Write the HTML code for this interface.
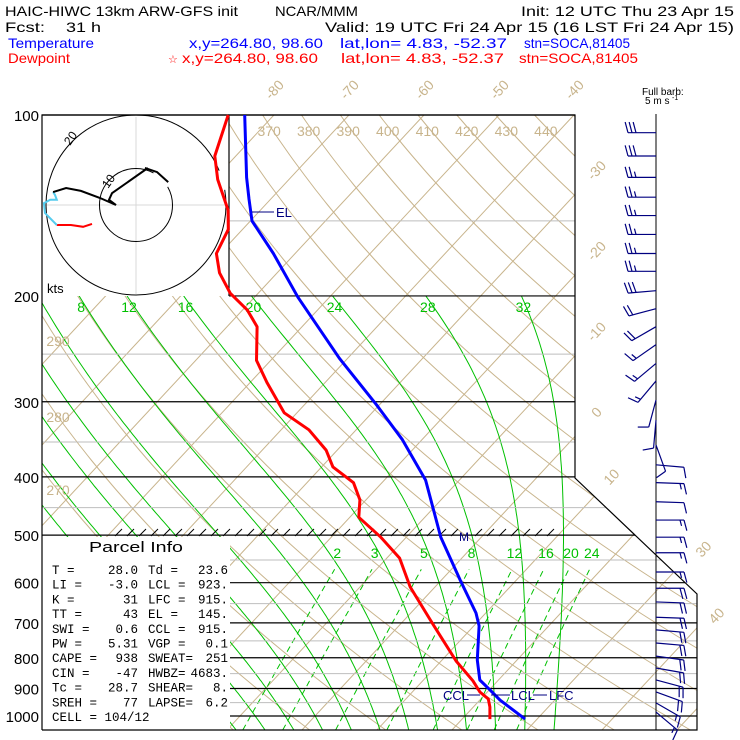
<!DOCTYPE html>
<html><head><meta charset="utf-8"><style>
html,body{margin:0;padding:0;background:#fff;}
svg{display:block;font-family:"Liberation Sans",sans-serif;}
</style></head><body>
<svg id="chart" width="740" height="740" viewBox="0 0 740 740" xmlns="http://www.w3.org/2000/svg">
<defs>
<clipPath id="plotClip"><polygon points="42,115 575,115 575,478 697,594 697,730 42,730"/></clipPath>
</defs>
<g font-size="14" fill="#000">
<text x="5" y="16" textLength="233" lengthAdjust="spacingAndGlyphs">HAIC-HIWC 13km ARW-GFS init</text>
<text x="275" y="16" textLength="83" lengthAdjust="spacingAndGlyphs">NCAR/MMM</text>
<text x="521" y="16" textLength="213" lengthAdjust="spacingAndGlyphs">Init: 12 UTC Thu 23 Apr 15</text>
<text x="5" y="32" textLength="40" lengthAdjust="spacingAndGlyphs">Fcst:</text>
<text x="66" y="32" textLength="35" lengthAdjust="spacingAndGlyphs">31 h</text>
<text x="325" y="32" textLength="409" lengthAdjust="spacingAndGlyphs">Valid: 19 UTC Fri 24 Apr 15 (16 LST Fri 24 Apr 15)</text>
<g fill="#0000ff">
<text x="8" y="48" textLength="86" lengthAdjust="spacingAndGlyphs">Temperature</text>
<text x="189" y="48" textLength="134" lengthAdjust="spacingAndGlyphs">x,y=264.80, 98.60</text>
<text x="340" y="48" textLength="167" lengthAdjust="spacingAndGlyphs">lat,lon=  4.83, -52.37</text>
<text x="524" y="48" textLength="106" lengthAdjust="spacingAndGlyphs">stn=SOCA,81405</text>
</g>
<g fill="#ff0000">
<text x="8" y="63" textLength="62" lengthAdjust="spacingAndGlyphs">Dewpoint</text>
<text x="168" y="63" font-size="11">☆</text>
<text x="182" y="63" textLength="136" lengthAdjust="spacingAndGlyphs">x,y=264.80, 98.60</text>
<text x="341" y="63" textLength="163" lengthAdjust="spacingAndGlyphs">lat,lon=  4.83, -52.37</text>
<text x="519" y="63" textLength="119" lengthAdjust="spacingAndGlyphs">stn=SOCA,81405</text>
</g>
</g>
<g id="bg" clip-path="url(#plotClip)"></g>
<g id="fg"></g>
</svg>
<script>
// ---- data ----
const pressureLevels = [100,150,200,250,300,350,400,450,500,550,600,650,700,750,800,850,900,950,1000];
const pressureLabels = [100,200,300,400,500,600,700,800,900,1000];
const isotherms = [-130,-120,-110,-100,-90,-80,-70,-60,-50,-40,-30,-20,-10,0,10,20,30,40,50];
const topIsoLabels = [-80,-70,-60,-50,-40];
const rightIsoLabels = [-30,-20,-10,0,10];
const lowIsoLabels = [30,40];
const thetas = [250,260,270,280,290,300,310,320,330,340,350,360,370,380,390,400,410,420,430,440,450,460];
const thetaTopLabels = [370,380,390,400,410,420,430,440];
const thetaLeftLabels = [270,280,290];
const moistThetaW = [-20,-16,-12,-8,-4,0,4,8,12,16,20,24,28,32];
const moistLabels = [8,12,16,20,24,28,32];
const mixRatios = [2,3,5,8,12,16,20,24];
const tempP = [100,127,138,150,170,201,254,304,347,405,504,594,674,708,807,871,905,941,1012];
const tempT = [-83.9,-75.9,-72.9,-69.8,-62.9,-54.2,-41.1,-30.3,-22.6,-14.5,-5.4,2.5,8.7,10.7,14.7,17.5,20.1,22.7,28.4];
const dewP = [100,117,128,144,155,170,183,198,211,225,256,279,313,334,361,385,409,437,467,504,546,610,703,810,874,912,937,966,1012];
const dewT = [-86.1,-82.8,-79.5,-74.3,-71.9,-70.5,-67.7,-63.7,-59.4,-56.0,-51.9,-47.7,-41.7,-36.3,-31.5,-28.5,-23.8,-20.8,-18.8,-13.4,-8.3,-3.3,4.3,12.0,16.7,19.0,21.0,22.2,23.7];
const barbP = [107,117,127,137,147,158,170,182,196,210,225,241,259,277,298,322,354,382,409,440,472,504,535,576,613,646,685,719,756,795,832,871,912,951,985];
const barbDir = [270,270,270,270,270,270,270,270,265,255,240,235,230,220,195,185,160,95,92,92,90,90,90,90,90,92,92,95,95,98,100,105,110,120,130];
const barbSpd = [15,15,12.5,12.5,12.5,12.5,12.5,12.5,15,10,10,7.5,7.5,7.5,5,5,5,5,7.5,5,7.5,7.5,7.5,7.5,10,10,10,10,10,10,10,10,10,7.5,7.5];
const hodoRedU = [-11.9,-14.3,-17.6,-21.4];
const hodoRedV = [-5.1,-5.9,-5.4,-5.4];
const hodoCyanU = [-21.4,-24.6,-24.9,-23.2,-21.4,-21.9,-22.4];
const hodoCyanV = [-5.4,-2.2,0.5,1.4,1.4,2.7,3.5];
const hodoBlackU = [-22.4,-18.9,-14.9,-9.7,-5.4,-7.3,-6.5,3.2];
const hodoBlackV = [3.5,4.6,3.8,1.9,0,1.4,3.2,10];
const hodoArcU = [2.4,5.7,8.7];
const hodoArcV = [10.0,8.9,6.2];
const parcelLeftLabels = ["T  =","LI =","K  =","TT =","SWI =","PW =","CAPE =","CIN =","Tc =","SREH ="];
const parcelLeftValues = ["28.0","-3.0","31","43","0.6","5.31","938","-47","28.7","77"];
const parcelRightLabels = ["Td =","LCL =","LFC =","EL  =","CCL =","VGP =","SWEAT=","HWBZ=","SHEAR=","LAPSE="];
const parcelRightValues = ["23.6","923.","915.","145.","915.","0.1","251","4683.","8.","6.2"];

// ---- axes ----
const NS = "http://www.w3.org/2000/svg";
const yP = p => 716 - 261*Math.log(1000/p);
const xT = (T,p) => 315 + 7.5*T + 0.93*261*Math.log(1000/p);
const pY = y => 1000*Math.exp(-(716-y)/261);
const TAN = "#c8b48c", GREEN = "#00c000", GRAY = "#bebebe";
const bg = document.getElementById('bg'), fg = document.getElementById('fg');
function mk(tag, attrs, parent){ const e=document.createElementNS(NS,tag); for(const k in attrs) e.setAttribute(k,attrs[k]); parent.appendChild(e); return e; }
function pathFrom(pts){ return pts.map((q,i)=>(i?'L':'M')+q[0].toFixed(1)+','+q[1].toFixed(1)).join(''); }
function txt(s,x,y,attrs,parent){ const e=mk('text',Object.assign({x:x,y:y},attrs),parent); e.textContent=s; return e; }

isotherms.forEach(T=>{
  const l = mk('line',{x1:xT(T,pY(730)),y1:730,x2:xT(T,pY(115)),y2:115,stroke:TAN,'stroke-width':1},bg);
  
  
});
thetas.forEach(th=>{
  const pts=[]; for(let y=730;y>=115;y-=5){ const p=pY(y); pts.push([xT(th*Math.pow(p/1000,0.2857)-273.15,p),y]); }
  const e = mk('path',{d:pathFrom(pts),fill:'none',stroke:TAN,'stroke-width':1},bg);
  
  
});
function es(Tc){ return 6.112*Math.exp(17.67*Tc/(Tc+243.5)); }
function moistPts(tw){
  const step=(T,p,dp)=>{ const e=es(T-273.15), rs=0.622*e/(p-e); const Lv=2.5e6,Rd=287,cp=1005;
    const g=(Rd*T+Lv*rs)/(cp+Lv*Lv*rs*0.622/(Rd*T*T))/p; return T+g*dp; };
  let Td=tw+273.15, pd=1000; const pts=[];
  while(pd<1055){ Td=step(Td,pd,5); pd+=5; }
  pts.push([xT(Td-273.15,pd),yP(pd)]);
  let Tc=Td, pc=pd;
  while(pc>200){ Tc=step(Tc,pc,-5); pc-=5; pts.push([xT(Tc-273.15,pc),yP(pc)]); }
  return pts;
}
const moistTop = {};
moistThetaW.forEach(tw=>{
  const pts=moistPts(tw); moistTop[tw]=pts[pts.length-1];
  const e=mk('path',{d:pathFrom(pts),fill:'none',stroke:GREEN,'stroke-width':1},bg);
  
  
});
function tdFromW(w,p){ const e=w*p/(622+w); const a=Math.log(e/6.112); return 243.5*a/(17.67-a); }
mixRatios.forEach(w=>{
  const pts=[]; for(let p=1055;p>=570;p-=5) pts.push([xT(tdFromW(w,p),p),yP(p)]);
  const e=mk('path',{d:pathFrom(pts),fill:'none',stroke:GREEN,'stroke-width':1,'stroke-dasharray':'6,4'},bg);
  
  
});

const hb = mk('rect',{x:42,y:115,width:187,height:181,fill:'#fff'},fg);


const pb = mk('rect',{x:42,y:537,width:188,height:193,fill:'#fff'},fg);



function rightX(y){ return y<=478?575:Math.min(697,575+(y-478)*1.052); }
pressureLevels.forEach(p=>{
  const y=yP(p), black = pressureLabels.includes(p);
  let x1=42; if(y<296 && p!==100) x1=229; if(y>540) x1=230;
  const l=mk('line',{x1:x1,y1:y,x2:rightX(y),y2:y,stroke:black?'#000':GRAY,'stroke-width':black?1.2:1},fg);
  
  
});
pressureLabels.forEach(p=>{
  const t=txt(String(p),39,yP(p)+6,{'font-size':15,'text-anchor':'end',fill:'#000'},fg);
  
  
});
const border = mk('polyline',{points:"42,730 42,115 575,115 575,478 697,594 697,730 42,730",fill:'none',stroke:'#000','stroke-width':1.2},fg);


const hbr = mk('line',{x1:229,y1:115,x2:229,y2:296,stroke:'#000','stroke-width':1.2},fg);



topIsoLabels.forEach(T=>{
  const x=xT(T,pY(100))-10, y=93;
  const t=txt(String(T),x,y,{'font-size':14,fill:TAN,'text-anchor':'middle',transform:`rotate(-47 ${x} ${y})`},fg);
  
  
});
rightIsoLabels.forEach(T=>{
  const x=T===10?615:600; const y=716-(x-315-7.5*T)/0.93+6;
  const t=txt(String(T),x,y,{'font-size':14,fill:TAN,'text-anchor':'middle',transform:`rotate(-47 ${x} ${y})`},fg);
  
  
});
lowIsoLabels.forEach(T=>{
  const x=T===30?707:720; const y=716-(x-315-7.5*T)/0.93+16;
  const t=txt(String(T),x,y,{'font-size':14,fill:TAN,'text-anchor':'middle',transform:`rotate(-47 ${x} ${y})`},fg);
  
  
});
thetaTopLabels.forEach(th=>{
  const p=pY(131); const x=xT(th*Math.pow(p/1000,0.2857)-273.15,p)-4;
  const t=txt(String(th),x,136,{'font-size':14,fill:TAN,'text-anchor':'middle'},bg);
  
  
});
thetaLeftLabels.forEach(th=>{
  let best=300,bd=1e9; for(let y=300;y<530;y++){ const p=pY(y); const d=Math.abs(xT(th*Math.pow(p/1000,0.2857)-273.15,p)-58); if(d<bd){bd=d;best=y;} }
  const t=txt(String(th),58,best+5,{'font-size':14,fill:TAN,'text-anchor':'middle'},fg);
  
  
});
moistLabels.forEach(tw=>{
  const q=moistTop[tw];
  const t=txt(String(tw),q[0]+2,312,{'font-size':14,fill:GREEN,'text-anchor':'middle'},fg);
  
  
});
mixRatios.forEach(w=>{
  const t=txt(String(w),xT(tdFromW(w,560),560),558,{'font-size':14,fill:GREEN,'text-anchor':'middle'},fg);
  
  
});

for(let x=115;x<=548;x+=12){
  if(Math.abs(x-462)<6) continue;
  const h=mk('line',{x1:x,y1:536,x2:x+7,y2:529,stroke:'#000','stroke-width':1},fg);
  
  
}
const mM=txt('M',464,541,{'font-size':12,fill:'#000080','text-anchor':'middle'},fg);



const HX=136, HY=205, HS=3.7;
const hodo = mk('g',{},fg);


mk('line',{x1:HX,y1:117,x2:HX,y2:294,stroke:'#d8d8d8','stroke-width':1},hodo);
mk('line',{x1:44,y1:HY,x2:228,y2:HY,stroke:'#d8d8d8','stroke-width':1},hodo);
const oc=mk('circle',{cx:HX,cy:HY,r:90,fill:'none',stroke:'#000','stroke-width':1,'stroke-dasharray':'530,20,200'},hodo);


const ic=mk('circle',{cx:HX,cy:HY,r:36.5,fill:'none',stroke:'#000','stroke-width':1,'stroke-dasharray':'190,20,50'},hodo);


const l20=txt('20',70,146,{'font-size':12,fill:'#000',transform:'rotate(-55 70 146)'},hodo);


const l10=txt('10',108,189,{'font-size':12,fill:'#000',transform:'rotate(-55 108 189)'},hodo);


const kts=txt('kts',47,293,{'font-size':13,fill:'#000'},hodo);


function hodoSeg(U,V,color,name){
  const pts=U.map((u,i)=>[HX+u*HS,HY-V[i]*HS]);
  const e=mk('path',{d:pathFrom(pts),fill:'none',stroke:color,'stroke-width':2},hodo);
  
  
}
hodoSeg(hodoRedU,hodoRedV,'#ff0000','hodograph-low-level');
hodoSeg(hodoCyanU,hodoCyanV,'#55ccee','hodograph-mid-level');
hodoSeg(hodoBlackU,hodoBlackV,'#000','hodograph-upper-level');
hodoSeg(hodoArcU,hodoArcV,'#000','hodograph-top-arc');

function profile(P,T,color,name){
  const pts=P.map((p,i)=>[xT(T[i],p),yP(p)]);
  const e=mk('path',{d:pathFrom(pts),fill:'none',stroke:color,'stroke-width':3,'stroke-linejoin':'round'},fg);
  
  
}
profile(dewP,dewT,'#ff0000','dewpoint-profile');
profile(tempP,tempT,'#0000ff','temperature-profile');

const el=mk('line',{x1:252,y1:212,x2:274,y2:212,stroke:'#000080','stroke-width':1},fg);


const elt=txt('EL',276,217,{'font-size':13,fill:'#000080'},fg);


const cl=txt('CCL',443,700,{'font-size':13,fill:'#000080'},fg);


const ll=txt('LCL',511,700,{'font-size':13,fill:'#000080'},fg);


const lf=txt('LFC',549,700,{'font-size':13,fill:'#000080'},fg);


[[467,480],[491,510],[533,547]].forEach(s=>{
  const m=mk('line',{x1:s[0],y1:695,x2:s[1],y2:695,stroke:'#000080','stroke-width':1},fg);
  
  
});

const MONO = {'font-size':12.5,fill:'#000','font-family':'"Liberation Mono",monospace'};
const pt=txt('Parcel Info',89,552,{'font-size':15,fill:'#000',textLength:94,lengthAdjust:'spacingAndGlyphs'},fg);


parcelLeftLabels.forEach((s,i)=>{
  const y=574+i*14.7;
  const a=txt(s,52,y,MONO,fg);
  
  
  const b=txt(parcelLeftValues[i],138,y,Object.assign({'text-anchor':'end'},MONO),fg);
  
  
  const c=txt(parcelRightLabels[i],148,y,MONO,fg);
  
  
  const d=txt(parcelRightValues[i],228,y,Object.assign({'text-anchor':'end'},MONO),fg);
  
  
});
const cell=txt('CELL = 104/12',52,721,MONO,fg);



const BX=656;
const ax=mk('line',{x1:BX,y1:114,x2:BX,y2:730,stroke:'#000','stroke-width':1},fg);


const fb=txt('Full barb:',642,95,{'font-size':10,fill:'#000'},fg);


const fb2=txt('5 m s',645,104,{'font-size':10,fill:'#000'},fg);


const fb3=txt('-1',672,100,{'font-size':7,fill:'#000'},fg);


barbP.forEach((p,i)=>{
  const y=yP(p), d=barbDir[i]*Math.PI/180, L=28;
  const ux=Math.sin(d), uy=-Math.cos(d);
  const tx=BX+L*ux, ty=y+L*uy;
  const g=mk('g',{stroke:'#000080','stroke-width':1.2,fill:'none'},fg);
  
  
  mk('line',{x1:BX,y1:y,x2:tx,y2:ty},g);
  const a=Math.atan2(uy,ux)+Math.PI*75/180;
  let s=barbSpd[i], k=0;
  while(s>=5){ const bx=tx-ux*4*k, by=ty-uy*4*k; mk('line',{x1:bx,y1:by,x2:bx+11*Math.cos(a),y2:by+11*Math.sin(a)},g); s-=5; k++; }
  if(s>=2.5){ const bx=tx-ux*4*k, by=ty-uy*4*k; mk('line',{x1:bx,y1:by,x2:bx+6*Math.cos(a),y2:by+6*Math.sin(a)},g); }
});
</script>
</body></html>
